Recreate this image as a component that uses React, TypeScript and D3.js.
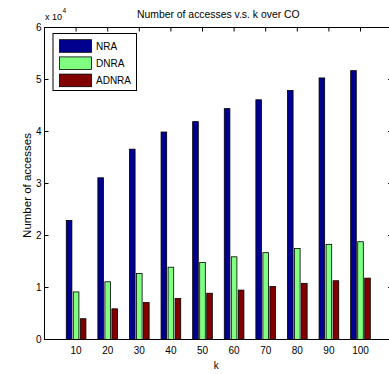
import React from "react";
import * as d3 from "d3";

const categories = ["10", "20", "30", "40", "50", "60", "70", "80", "90", "100"];
const nraValues = [2.29, 3.11, 3.66, 3.99, 4.19, 4.44, 4.61, 4.79, 5.03, 5.17];
const dnraValues = [0.915, 1.11, 1.27, 1.39, 1.48, 1.59, 1.67, 1.75, 1.83, 1.88];
const adnraValues = [0.40, 0.59, 0.71, 0.79, 0.89, 0.95, 1.02, 1.08, 1.13, 1.18];
const seriesNames = ["NRA", "DNRA", "ADNRA"];
const seriesColors = ["#00008f", "#80ff80", "#800000"];
const yTicks = [0, 1, 2, 3, 4, 5, 6];

const W = 389;
const H = 374;
const FONT = "'Liberation Sans', Arial, sans-serif";

export default function App() {
  const x = d3.scaleLinear().domain([0, 11]).range([44.5, 44.5 + 11 * 31.6]);
  const y = d3.scaleLinear().domain([0, 6]).range([339.5, 27.5]);
  const series = [nraValues, dnraValues, adnraValues];
  const groupWidth = Math.min(0.8, 3 / (3 + 1.5));
  const barW = (groupWidth / 3) * 0.8;
  const offsets = [-groupWidth / 3, 0, groupWidth / 3];
  const [x0, x1] = x.range();
  const [yb, yt] = y.range();
  const tickLen = 4;
  const cx = (x0 + x1) / 2;

  return (
    <svg width={W} height={H} style={{ position: "absolute", left: 0, top: 0, background: "#fff" }} fontFamily={FONT}>
      <rect x={0} y={0} width={W} height={H} fill="#fff" />
      {/* bars */}
      {series.map((vals, s) =>
        vals.map((v, i) => {
          const c = i + 1 + offsets[s];
          const left = x(c - barW / 2);
          const right = x(c + barW / 2);
          return (
            <rect
              key={`${s}-${i}`}
              x={left}
              y={y(v)}
              width={right - left}
              height={y(0) - y(v)}
              fill={seriesColors[s]}
              stroke="#000"
              strokeWidth={0.8}
            />
          );
        })
      )}
      {/* axes box */}
      <rect x={x0} y={yt} width={x1 - x0} height={yb - yt} fill="none" stroke="#000" strokeWidth={1} />
      {/* y ticks */}
      {yTicks.map((t) => (
        <g key={`yt${t}`}>
          <line x1={x0} x2={x0 + tickLen} y1={y(t)} y2={y(t)} stroke="#000" />
          <line x1={x1} x2={x1 - tickLen} y1={y(t)} y2={y(t)} stroke="#000" />
          <text x={x0 - 3} y={y(t)} dy="0.36em" textAnchor="end" fontSize={10} fill="#000">
            {t}
          </text>
        </g>
      ))}
      {/* x ticks */}
      {categories.map((c, i) => (
        <g key={`xt${c}`}>
          <line x1={x(i + 1)} x2={x(i + 1)} y1={yt} y2={yt + tickLen} stroke="#000" />
          <text x={x(i + 1)} y={353.5} textAnchor="middle" fontSize={10} fill="#000">
            {c}
          </text>
        </g>
      ))}
      {/* exponent */}
      <text x={45} y={19.5} fontSize={9} fill="#000">
        x 10
      </text>
      <text x={62.5} y={13} fontSize={6.5} fill="#000">
        4
      </text>
      {/* title */}
      <text x={cx} y={17.5} textAnchor="middle" fontSize={10.4} fill="#000">
        Number of accesses v.s. k over CO
      </text>
      {/* axis labels */}
      <text x={cx - 2} y={369} textAnchor="middle" fontSize={10} fill="#000">
        k
      </text>
      <text transform={`translate(31,${(yb + yt) / 2 + 2}) rotate(-90)`} textAnchor="middle" fontSize={11.5} fill="#000">
        Number of accesses
      </text>
      {/* legend */}
      <rect x={53} y={33.5} width={83.5} height={57} fill="#fff" stroke="#000" strokeWidth={1} />
      {seriesNames.map((n, s) => {
        const top = 39.7 + s * 17.2;
        return (
          <g key={n}>
            <rect x={59.5} y={top} width={32} height={12.6} fill={seriesColors[s]} stroke="#000" strokeWidth={0.8} />
            <text x={96} y={top + 6.3} dy="0.36em" fontSize={10} fill="#000">
              {n}
            </text>
          </g>
        );
      })}
    </svg>
  );
}
